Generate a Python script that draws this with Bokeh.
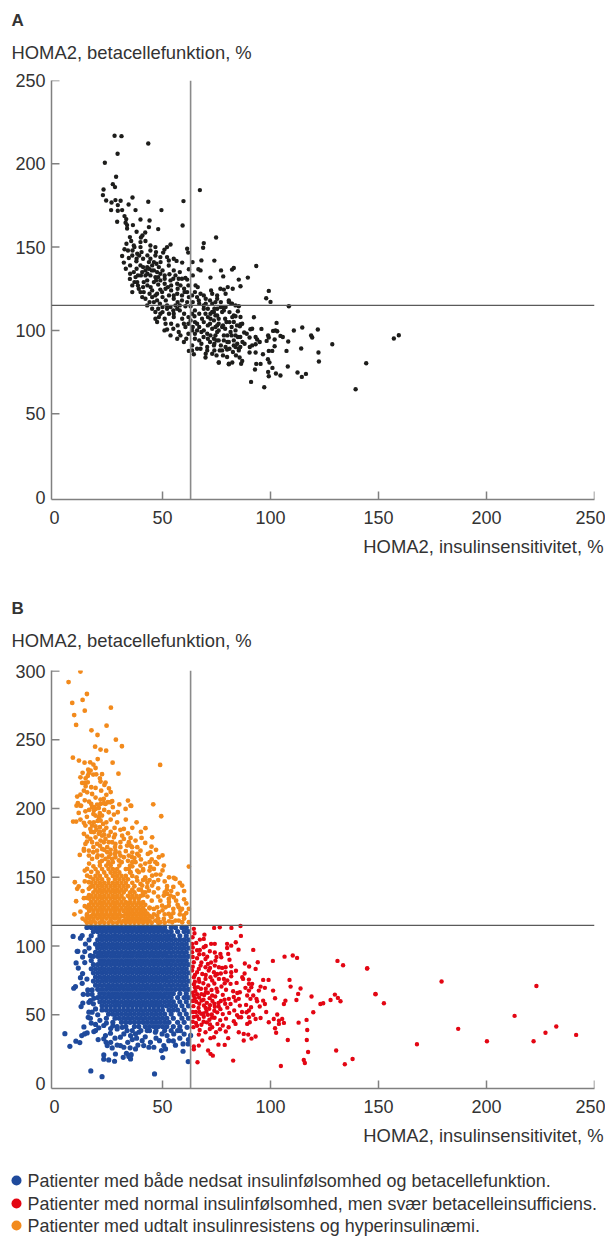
from bokeh.plotting import figure
from bokeh.layouts import column
from bokeh.models import Span, FixedTicker
from bokeh.core.properties import value
from bokeh.embed import file_html
from bokeh.resources import INLINE

FONT = "Liberation Sans"
INK = "#333333"
AXIS = "#808080"
BLUE, RED, ORANGE, BLACK = "#1f4a9c", "#e30613", "#f28a1c", "#1d1d1b"

CUT_X = 63
CUT_Y = 115
X_TICKS = [0, 50, 100, 150, 200, 250]
A_Y_TICKS = [0, 50, 100, 150, 200, 250]
B_Y_TICKS = [0, 50, 100, 150, 200, 250, 300]
PANEL_A = "A"
PANEL_B = "B"
Y_TITLE = "HOMA2, betacellefunktion, %"
X_TITLE = "HOMA2, insulinsensitivitet, %"
LEGEND = ["Patienter med både nedsat insulinfølsomhed og betacellefunktion.",
          "Patienter med normal insulinfølsomhed, men svær betacelleinsufficiens.",
          "Patienter med udtalt insulinresistens og hyperinsulinæmi."]

a_top = [(27.8,216.8),(31,216.6),(43.4,212.2),(29.2,206),(23.3,200.6),(28.5,192.2),(27,187.8),(28,186),(22.7,184.6),(22.4,181.2),(67.3,184.2),(23.9,178),(28.2,178.2),(30.6,177.8),(36.1,179.8),(43.4,177.2),(59.7,177.6),(26.4,176.8),(29.3,175.2),(34.3,175.6),(26.2,172.2),(29.3,171.8),(31.3,172.2),(37.5,172.2),(49.5,172.2),(32.4,168.6),(33.2,166.8),(39.8,166.6),(44,166),(29,165.2),(32.9,164.6),(33.6,163.2),(36.3,163.2),(59.3,163),(43.7,162),(48,160.8),(33.6,161.2),(38,159.2),(42,158.8),(40.7,157),(40,155.8),(34.9,156),(74.8,155.8)]
a_mid = [(35.5,153.7),(39.8,153),(33.3,152),(36.7,151),(42.1,153.7),(44.4,151),(46.7,150),(53.7,151.6),(52.1,150),(69.1,152.4),(68.8,149.6),(32.4,148.7),(36.1,148),(39.8,150),(40.3,147),(44.4,148),(50.9,148.5),(50.3,146.7),(61.4,149),(61.9,146.7),(31.3,144.7),(34.4,143.5),(38.3,146),(39.2,145),(44.4,143),(46.7,145),(52.1,144),(55.2,143),(52.9,142),(56.5,141.7),(68,142),(74,141.9),(63.9,141),(32.1,140.7),(37.9,141.5),(43.7,141),(59.1,140.7),(49.1,141),(42.9,138),(45.2,139),(47.2,140),(48.3,138),(39.8,139),(52.9,139),(55.2,136),(62.2,136.7),(66.6,136.7),(67.6,136),(77.1,136),(82.2,136.5),(83,137.5),(36.7,135),(40.6,135),(42.1,136),(43.7,137),(46,136),(47.5,135),(49,134),(53.2,133.7),(56,133),(60.6,131.5),(72.2,131.7),(78.1,132.4),(85.3,130.5),(34.9,130.9),(37.5,132),(38.6,133),(42.1,133),(44.4,133),(46.7,132),(49,130),(53.7,130),(57.5,131),(61.4,130.5),(38.3,129),(38.6,127),(41.3,129),(42.9,130),(46,129),(56.8,128),(58.3,127),(65.3,127),(66.3,126),(80.2,126),(82.5,125),(76.8,125),(78.4,124.5),(72.5,124),(73,122),(39,125),(39.8,123),(41.3,123),(45.2,124),(49,124.5),(51.4,125),(47.5,122),(49.8,123),(46.7,121),(55.2,121),(56.8,122),(60.2,123),(61.4,123),(63.7,121),(67.6,122),(69.1,121),(75.3,121),(79.2,122)]
a_low = [(40.6,120),(42.1,119),(45.2,120),(55.2,119),(62.2,120),(61.4,117),(66.8,118),(66,120),(75.3,119),(80.7,117),(82.2,116),(85.3,114.5),(42.9,115),(46,117),(47.5,118),(48.8,116),(52.1,115),(53.7,114),(56,115),(60.6,114.5),(63,114.5),(69.1,115),(73,116),(78.4,114),(45.2,113),(46.7,111),(52.1,113),(55.2,110),(56.8,113),(63.7,110),(64.8,108.5),(69.1,113),(69.9,110),(73,111),(75.3,113),(77.6,114),(78.4,112),(83,109),(46.7,107),(48.3,108),(47.5,105),(55.2,108),(59.1,107),(66,104),(68.3,107),(69.1,105),(72.2,107),(74.5,109),(76,104),(77.6,102),(74.5,102),(83,105),(84.5,103),(51.4,104),(52.1,100.5),(59.9,104),(60.6,102),(50.9,100),(53.7,97),(57.5,99),(58.3,97),(56.8,95),(59.9,93),(63.7,100),(66,100),(69.1,100),(70.7,98),(72.2,97),(73.8,95),(75.3,99),(78.4,97),(81.5,99),(83,94),(80,93),(84.9,96),(63.7,91),(62.2,87.7),(63.7,88),(64.5,85.7),(66,89),(67.6,89),(70.7,90),(73.8,91),(69.9,83.7),(76,80.7),(80.7,80),(82.3,80.7),(79.9,84),(77.6,88),(83.8,90),(85.3,89)]
a_right = [(93.4,138.7),(89.5,131.7),(99.2,123.7),(98,119.3),(100,117.1),(108.5,114.5),(86.1,126.5),(80.7,118),(81.8,116),(83.8,115),(74.5,117),(76.9,114),(79.2,114),(77.6,111),(84.9,111.5),(73.8,111),(72.2,110),(92.3,107.9),(86.1,108),(82.3,108),(83.8,108.5),(79.6,105),(75.3,109),(73.8,106),(75.3,103),(86.1,103.7),(86.9,104),(85.8,102.5),(102.8,104.5),(91.5,101),(90.7,100.7),(95.8,100.9),(114.7,101.7),(110.8,99.9),(121.9,100.5),(101.2,99.7),(102.3,100),(103.1,99.5),(87.8,98.7),(83.8,100),(83.8,97),(74.5,97),(157.1,95.1),(159.4,97.1),(90.3,95.7),(93.1,96),(93.8,94.5),(98.9,97),(99.2,95.7),(98.2,93.7),(104.6,96.7),(105.7,96),(101.9,94.5),(118.8,97),(119.3,95.7),(108.2,93.3),(128.6,91.7),(101.9,90.5),(95,93),(93.1,91.7),(91.5,91),(90.4,90),(83,91),(80.7,93),(78.4,94),(84.6,92),(114.2,89.1),(107.4,87.7),(99.2,87.7),(100.8,87.7),(90.3,86.7),(93.1,86.7),(122.2,86.7),(96.5,85.7),(85.3,88),(79.9,88.5),(76.5,88),(79.2,90),(82.6,87),(70.7,88),(85.7,83.7),(98.8,82.7),(99.5,80.7),(122.4,81.3),(144.3,80.3),(86.9,81.7),(86.4,80),(76.1,80.7),(80.7,79.7),(93.4,79.9),(95.4,79.9),(108,78.3),(100.9,77.5),(92.8,76.5),(98.9,75.1),(99.2,72.5),(102.5,74.1),(104.6,72.9),(112.5,74.7),(114.5,72.1),(116.4,73.9),(91,69.1),(97.1,65.9),(139.4,64.7)]
a_dense = [(43,127),(44.5,126),(48,127.5),(51,128),(52.5,126),(54,124),(57,125),(59,121),(50,120),(51.5,118),(53,121),(44,122),(48,113),(50,111),(53,110),(58,112),(60,110),(62,108),(65,112),(67,110),(71,113),(71,108),(67,116),(70,119),(72,118),(64,117),(65,123),(59,118),(57,117),(65,105),(62,104),(64,102),(67,102),(69,96),(67,94),(65,95),(71,103),(73,101),(79,107),(81,105),(81,111),(79,101),(80,97),(76,94),(74,92),(72,93),(77,91),(82,102),(86,96),(88,92),(68,92),(70,86),(73,86),(75,85),(78,85),(84,85),(41,138),(38,137),(35,139),(46,141),(50,136),(51,133),(47,130),(40,133),(37,129),(54,127),(59,131),(62,127),(60,125),(58,115),(49,110),(51,107),(54,104),(57,103),(55,101),(62,98),(61,95),(65,98),(68,99),(71,95),(75,94),(76,100),(72,104),(70,116),(77,117),(74,113),(76,107),(78,103),(82,97),(87,93),(89,98),(86,90),(81,89),(74,88),(36,145),(34,148),(37,150),(41,143),(43,145),(47,147),(49,144),(33,137),(35,134),(38,143),(43,134),(45,136),(48,132),(51,131),(55,131),(58,135),(64,133),(36,127),(36,123),(41,126),(44,117),(50,114),(55,112),(63,106)]

b_orange_top = [(12,299.6),(6.5,292),(15,283.3),(13,279),(8.2,276.8),(26.1,273.4),(14,271.2),(9.1,268),(10,260.8),(24.1,260.3),(17.1,256.9),(19.9,253.5),(28.4,250.1),(31.2,245.3),(18.8,245),(21.3,242.9),(23.9,242.1),(8.5,237),(11.3,234.9),(13.9,233.4),(16.5,233.6),(26.9,233.4),(48.9,231.7),(19,229.5),(15.6,228.3),(16.7,227.6),(15.9,225.7),(29.6,225.4),(17.9,224.7),(19.3,224.9),(12,222.7),(14.4,222),(15.4,223.7),(21.3,219.6),(23.6,218.9),(23.1,217.2),(12.8,218.6),(13.9,218.6),(15.4,219.1),(14.4,216.2),(17,215.5),(25.2,214.7),(21.6,213),(13.6,213),(15.1,211.8),(12,210.1),(10.5,208.7),(17.4,210.6),(21.3,206.5),(22.8,207),(34,205.8),(26.7,205.3),(24.7,204.6),(23.6,203.4),(10.8,204),(12,202.1),(10.2,202.1),(17,203.4),(17.4,200.9),(19,199.7),(20.5,200.4),(21.3,203.4),(35.5,201.9),(45.7,203.1),(32.9,199.7)]
b_orange_mid = [(12.3,202),(18.2,201),(19.7,202.9),(22.8,203.9),(25.9,204.6),(35.2,202.2),(25.1,197.3),(29.3,197.3),(27.5,195.6),(49.4,194.4),(11.2,196.8),(14.3,198),(18.2,198.5),(21,196.6),(22,194.9),(20.5,193.7),(19,194.9),(8.6,190.5),(10,190.5),(13.6,189.6),(14.3,187.6),(16.3,190),(18.2,190),(17.4,187.6),(16.6,185.2),(21.3,191.3),(22.5,188.8),(21,186.4),(22.8,184),(19.4,184.5),(18.2,182.8),(27.8,185.9),(30.5,184.5),(32.1,185.2),(42.1,185.7),(13.6,181.6),(15.1,179.6),(16.6,177.9),(19,179.1),(20.5,181.6),(22,180.3),(23.6,177.9),(25.1,180.3),(27.5,179.1),(31.3,180.3),(32.1,177.9),(30.5,175.5),(40.3,178.6),(45.2,179.1),(35.2,178.6),(37.5,176.7),(35.2,173.1),(34.4,175.5),(14.3,174.3),(13.6,170.6),(15.9,169.4),(11.7,166.3),(13.6,169.4),(15.9,165.8),(17.4,175.5),(19.7,174.3),(21.3,176.7),(22.8,175.5),(24.4,171.9),(26.7,175.5),(28.2,174.3),(25.1,175.5),(30.5,171.9),(33.6,173.1),(35.9,171.9),(38.3,171.9),(44.9,172.3),(43.2,167),(44.4,168.2),(39.8,169.4),(38.3,167),(39,165.8),(35.9,164.6),(34.4,165.8),(17.9,168.2),(19.7,169.4),(22,170.6),(24.4,168.2),(25.9,167),(28.2,169.4),(30.5,165.8),(32.1,164.6),(17.4,163.4),(19.7,164.6),(22,165.8),(23.6,163.4),(25.1,164.6),(26.7,163.4),(28.2,164.6),(29.8,162.2)]
b_orange_low = [(44,161),(48.3,164.6),(46.7,161),(47.5,159.7),(37.5,161),(39.8,158.5),(38.3,154.9),(39,153.7),(50.6,158.5),(44.4,157.3),(44,154.9),(46,156.1),(45.2,151.2),(62.2,157.8),(14,154.9),(15.1,156.1),(15.1,151.2),(16.6,150.1),(9.4,146.4),(11.2,143.3),(10.5,141.6),(15.9,146.4),(16.6,142.8),(15.9,141.6),(55.2,149.6),(56,148.8),(59.1,144),(52.1,143.5),(46,146.4),(45.2,144),(34.4,156.1),(35.2,153.7),(38.3,147.6),(39.8,145.2),(40.6,144),(42.9,142.8),(43.7,140.3),(10,132.6),(13.6,134.8),(9.2,123.1),(50.6,136.7),(52.1,137.9),(53.7,136.7),(52.9,134.3),(56.3,133),(55.2,135.5),(49.8,129.4),(51.4,128.2),(52.9,129.4),(57.5,128.2),(58.3,125.8),(62.2,127),(47.5,128.2),(46,127),(48.3,124.6),(53.7,122.2),(52.9,123.4),(56,118.5),(57.5,118.5),(54.5,117.3),(62.2,117.3),(47.5,122.2),(46.7,118.5),(49,117.3),(45.2,120.9),(50.6,119.7),(14.3,118.5),(16.6,117.3),(15.1,120.9),(59.9,122.2),(59.1,117.3),(16,205),(14,206),(19,208),(24,210),(26,212),(19,215),(21,222),(13,226),(18,232),(20,236),(22,225),(24,190),(26,192),(29,190),(33,192),(12,192),(15,194),(23,199),(27,201),(30,203),(38,190),(36,186),(34,182),(40,183),(42,175),(47,170),(50,166),(53,150),(49,152),(51,147),(48,142),(54,140),(57,138),(60,134),(61,131),(55,127),(60,120),(53,118),(51,123),(49,133),(46,139),(48,148),(42,150),(41,155),(43,146),(58,123)]
b_orange_extra = [(16,199),(18,196),(20,191),(24,186),(26,183),(28,181),(19,187),(21,183),(23,181),(17,183),(15,176),(18,172),(21,173),(23,170),(26,170),(28,172),(30,168),(33,169),(36,168),(20,166),(22,162),(25,160),(28,167),(31,161),(34,162),(37,164),(40,163),(42,160),(45,163),(36,158),(38,150),(41,148),(44,148),(47,152),(50,155),(52,141),(55,143),(58,146),(60,140),(51,139),(48,136),(45,133),(44,128),(46,123),(50,126),(53,132),(55,124),(57,130),(59,127),(61,124),(54,121),(48,120),(43,136),(42,139),(40,141),(41,137),(16,160),(14,147),(13,140),(14,129),(12,125),(13,120),(15,135),(15,128),(15,123),(17,154),(18,158),(17,146),(16,137)]
b_orange_core = {
 117: [15,17,19,21,23,25,27,29,31,33,35,37,39,41,43,45,48,51],
 118.5: [18,22,26,30,32,34,36,38,40,42,44],
 120: [16,18,20,22,24,26,28,30,33,35,37,39,41,43],
 122: [15,17,19,21,23,25,27,29,31,32,34,36,38,40,42,44],
 123.5: [18,20,22,24,26,28,30,33,35,37,39,41,43],
 125.5: [16,18,20,22,24,26,28,30,32,34,36,38,40,42],
 127.5: [17,19,21,23,25,27,29,31,33,35,37,39,41,44],
 130: [16,18,20,22,24,26,28,30,32,34,36,38,40,42],
 132: [17,19,21,23,25,27,29,31,33,35,37,39,41],
 134.5: [16,18,20,22,24,26,28,30,32,35,37,39],
 136.5: [17,19,21,23,25,27,29,31,34,36,38,40],
 139: [18,20,22,24,26,28,30,32,35,37,41],
 141: [19,21,23,25,27,29,31,33,36,39],
 143.5: [18,20,22,24,26,28,30,32,34,37],
 146: [19,21,23,25,27,29,31,33,36],
 148.5: [18,20,22,25,28,30,32,34,42],
 151: [19,21,24,27,29,31,33,36],
 153.5: [20,23,26,28,30,35],
 156: [19,22,25,27,29,33,41],
 158.5: [21,24,26,30,35],
 161: [21,25,27,31,36],
}

b_blue_edge = [(10,87.7),(10.8,96.2),(9.7,70.5),(8.9,69.3),(12.8,72.9),(13.3,64.9),(15.4,68.1),(17.4,68.1),(15.4,64.9),(17.4,64.9),(16.6,60.3),(18.2,62),(15.9,59.1),(13.1,58.6),(12.3,56),(19,54.3),(17.4,51.9),(15.9,51.9),(15.6,48.2),(16.6,47.5),(13.6,41.2),(15.1,36.8),(13.9,36.1),(4.8,36.3),(12.6,34.9),(9.9,30.8),(11.7,29.8),(7.1,27.1),(19,38.5),(20.5,40.5),(22.8,42.2),(18.2,37.8),(20.2,32),(22.8,32.5),(23.6,34.9),(25.9,36.6),(23.9,30),(24.4,27.6),(26.7,25.9),(22.8,20.8),(22.8,17.7),(25.1,17.2),(27.8,16.2),(28.2,21.5),(31.8,19.1),(30.5,27.6),(32.1,26.4),(33.9,30),(35.2,17.9),(35.5,21),(33.3,22),(34.4,19.6),(37.5,25.2),(38.6,28),(40.6,31.2),(41.3,27.6),(43.7,26.4),(46,26.4),(44.4,30),(48.6,31.2),(49.5,24),(51.4,25.2),(50.6,27.6),(50.1,18.9),(56,27.9),(59.5,28.8),(61.9,28.8),(59.5,23.5),(61.9,16),(16.8,9.2),(22,5),(46.3,7),(37.5,36.1),(39,37.3),(35.2,34.9),(32.1,36.1),(30.5,33.7),(29,39.7),(31.3,40.9),(33.6,38.5),(42.9,38.5),(46.7,37.3),(49.8,36.1),(52.1,34.9),(55.2,36.1),(58.3,38.5),(61.4,40.9),(52.9,31.2),(8.6,107),(12,105.7),(10.5,96.2),(12.8,107.6),(14.3,101.5),(16.6,93),(11,84),(13,80),(14,88),(13,92),(15,76),(12,77),(18,58),(21,46),(20,50),(24,44),(27,42),(26,40),(14,96),(60,36),(63,35),(62,32),(28,33),(26,30),(36,32),(42,34),(47,33),(55,31),(58,33),(29,28),(35,26),(38,33),(17,44),(19,43)]
b_blue_core = {
 113.5: [15,17,19,21,23,25,27,29,31,33,35,37,39,41,43,45,47,49,51,54,56,59,61],
 110.5: [18,20,22,24,26,28,30,32,34,36,38,40,42,44,46,48,50,52,54,57,60,62],
 107.5: [17,21,23,25,27,29,31,33,35,37,39,41,43,45,47,49,51,53,55,58,61],
 104.5: [16,20,22,24,26,28,30,32,34,36,38,40,42,44,46,48,50,52,54,56,58,60,62],
 101.5: [19,21,23,25,27,29,31,33,35,37,39,41,43,45,47,49,51,53,55,57,59,61],
 98.5: [16,20,22,24,26,28,30,32,34,36,38,40,42,44,46,48,50,52,54,56,58,60,62],
 95.5: [19,21,23,25,27,29,31,33,35,37,39,41,43,45,47,49,51,53,55,57,59,61],
 92.5: [18,20,22,24,26,28,30,32,34,36,38,40,42,44,46,48,50,52,54,56,58,60,62],
 89.5: [17,21,23,25,27,29,31,33,35,37,39,41,43,45,47,49,51,53,55,57,59,61],
 86.5: [18,20,22,24,26,28,30,32,34,36,38,40,42,44,46,48,50,52,54,56,58,60,62],
 83.5: [17,19,21,23,25,27,29,31,33,35,37,39,41,43,45,47,49,51,53,55,57,59,61],
 80.5: [18,20,22,24,26,28,30,32,34,36,38,40,42,44,46,48,50,52,54,56,58,60,62],
 77.5: [19,21,23,25,27,29,31,33,35,37,39,41,43,45,47,49,51,53,55,57,59,61],
 74.5: [18,20,22,24,26,28,30,32,34,36,38,40,42,44,46,48,50,52,54,56,58,60,62],
 71.5: [19,21,23,25,27,29,31,33,35,37,39,41,43,45,47,49,51,53,55,57,59,61],
 68.5: [20,22,24,26,28,30,32,34,36,38,40,42,44,46,48,50,52,54,56,58,60,62],
 65.5: [21,23,25,27,29,31,33,35,37,39,41,43,45,47,49,51,53,55,58,61],
 62.5: [20,22,24,26,28,30,32,34,36,38,40,42,44,46,48,50,52,54,57,60,62],
 59.5: [21,23,25,27,29,31,33,35,37,39,41,43,45,47,49,51,53,55,58,61],
 56.5: [22,24,26,28,30,32,34,36,38,40,42,44,46,48,50,52,54,56,59,62],
 53.5: [22,24,26,28,30,32,34,36,38,40,42,44,46,48,50,53,55,57,60],
 50.5: [25,27,29,31,33,35,37,39,41,43,45,47,49,51,54,58,61],
 47.5: [24,28,30,32,34,36,38,40,42,44,46,48,50,52,55,59,62],
 44.5: [27,31,33,35,37,39,41,43,45,47,49,51,53,57,60],
 41.5: [29,33,37,39,42,44,46,48,50,52,55,58],
 38.5: [36,40,44,47,51,54,57],
}
b_blue_fill = {
 112: [20,23,26,29,32,35,38,41,44,47,50],
 106: [22,25,28,31,34,37,40,43,46,49,52],
 100: [20,23,26,29,32,35,38,41,44,47,50,53],
 94: [21,24,27,30,33,36,39,42,45,48,51],
 88: [22,25,28,31,34,37,40,43,46,49,52],
 82: [23,26,29,32,35,38,41,44,47,50,53],
 76: [24,27,30,33,36,39,42,45,48,51],
 70: [25,28,31,34,37,40,43,46,49],
 64: [26,29,32,35,38,41,44,47,50],
 58: [29,33,36,39,42,45,48],
}

b_red_edge = [(73.9,113.2),(76.5,113.7),(81.9,113.2),(86.1,114.6),(64.5,112.5),(64.8,109.3),(69.4,108.3),(86.3,107.4),(63.9,106.4),(67.3,104.7),(69.1,105.2),(83.9,102.8),(63.7,101.6),(65.6,102.3),(72.5,101.6),(74.2,101.6),(79.9,101.6),(81.8,100.3),(69.1,99.1),(67.3,97.2),(79.9,98.6),(85.2,97.4),(92,97.2),(71.9,96.2),(74.2,95.3),(63.7,95.5),(76.8,94.3),(80.4,94.3),(70.7,92.3),(77.2,91.9),(106.5,92.3),(110.3,93.1),(112.3,91.4),(74.5,89.4),(66,91.1),(69.9,90.6),(101.1,89.2),(94.1,88.2),(88.1,87.3),(131,89.2),(133.6,86),(144.8,83.9),(90.1,85.1),(93.1,83.4),(64.5,88.2),(67.6,85.8),(66.8,83.4),(69.9,84.6),(74.2,85.8),(76.1,84.6),(77.6,84.1),(79.2,84.6),(81.8,85.3),(79.2,81),(81.8,81),(81.8,78),(63.7,82.2),(66,81),(68.4,79.7),(71.4,82.2),(73.8,81),(75.3,79.7),(64.5,77.3),(66.8,76.1),(69.9,76.1),(72.2,77.3),(74.5,78.5),(76.1,76.1),(78.4,76.1),(86.9,77.3),(87.3,76.1),(90,75.6),(96.6,75.4),(99.1,75.4),(108.8,75.4),(81.5,72.5),(84.3,73.2),(90,72.5),(91.5,72.5),(109.3,70.5),(113.9,69.1),(88.4,69.6),(91.1,70),(95.4,70.5),(97.4,69.6),(101.2,67.6),(90,67.6),(94.6,67.6),(82.7,67.1),(84.6,65.9),(85.8,66.4),(112.8,65.2),(89.2,64),(129.8,64.7),(148.6,65.2),(131.2,62.3),(119,63.3),(112,60.8),(102.1,62),(127.8,60.8),(132.4,59.9),(90.7,61.6),(93.5,61.6),(96.6,60.3),(97.4,57.9),(93.8,59.9),(106.9,60.3),(106.2,57.9),(123.1,57.9),(124.4,58.4),(80.7,61.6),(81.5,57.9),(83.8,60.3),(85.3,61.6),(85.8,56.7),(88.7,57.2),(91,55.5),(90,53.1),(88.9,51.9),(119.8,51.9),(103.1,50.2),(93.1,47),(95.4,47.7),(99.2,44.6),(101.5,47),(103.9,45.8),(105.4,47),(106.2,44.1),(103.9,43.4),(116.7,46.3),(113,44.3),(117,39),(102.6,37),(102.1,40.2),(116.8,31.7),(108,31.7),(117.4,23),(130.4,24),(138,17.9),(134.4,14),(115.4,17.2),(115.9,15),(104.8,12.8),(82.7,16.7),(66.2,15.5),(85.3,48.2),(86.4,48.2),(83,45.3),(83.8,43.4),(90,48.2),(89.2,43.4),(90.4,44.6),(85.3,37.3),(87.6,36.1),(89.7,35.6),(93.1,34.2),(91.2,32.7),(87.6,31.3),(80.4,33),(78.8,28.1),(75.9,28.3),(74.8,37.3),(73,41),(71.9,39.7),(73.8,33.7),(72.2,33),(69.9,37.3),(66.8,35.6),(68.4,31.3),(66.8,27.6),(64.5,26.9),(64.5,25),(71.1,24),(72.2,21.6),(73.3,20.3),(144.7,83.6),(148.6,65),(152.5,58.4),(179.2,74.2),(167.8,28.6),(186.9,39.8),(200.2,30.8),(213,49.2),(223.1,71),(221.8,30.8),(227.3,37),(232.3,41.5),(241.5,35.4)]
b_red_core = [(64.5,72.3),(66.4,70.1),(68.9,73),(71.2,71.4),(74,72.8),(77.3,70.6),(65.2,67.4),(67.8,68.9),(70,66.2),(72.7,68),(75.4,66.8),(79.4,68.2),(64.4,63.9),(66.9,62.6),(69.3,64.4),(71.8,62.1),(74.4,63.3),(77.9,64.5),(65.6,59.5),(68.1,60.4),(70.5,58.7),(73.1,60.1),(75.9,58.6),(78.7,60.9),(64.3,56.3),(66.7,55),(69.2,56.8),(71.6,54.4),(74.2,55.9),(76.8,54.1),(80,55.2),(83.2,53.2),(65.4,52),(67.9,50.7),(70.3,52.4),(72.8,50.2),(75.3,51.8),(77.9,50.5),(80.9,51.4),(64.5,48.4),(66.9,46.9),(69.1,48.6),(71.7,46.4),(74.1,47.9),(76.7,46.1),(79.4,47.2),(65.5,44),(68,42.8),(70.5,44.5),(75.4,43.4),(77.9,42.2),(80.6,40.9),(64.3,41),(67.2,38.9),(76.6,39.5),(79.3,37.9),(86.8,52),(84.5,49.8),(78.8,72.9),(83,63),(72.5,88),(75,92),(67,94),(81,90),(84,82),(88,80),(92,64),(95,56),(98,52),(92,50),(64,92),(64,85),(65,79),(67,74),(70,79),(73,75),(65,70),(64,66),(64,60),(67,58),(69,61),(72,57),(74,53),(70,55),(67,52),(69,45),(72,43),(66,49),(64,52),(73,64),(71,66),(77,60),(75,69),(70,69),(68,65),(66,65),(65,62),(73,48),(71,50),(69,51),(64,45),(66,42),(72,84),(68,88),(71,87),(77,80),(80,75),(66,97),(70,100),(64,99),(69,94),(65,74),(79,58),(76,56),(74,58)]


def flatten(*groups):
    xs, ys = [], []
    for g in groups:
        if isinstance(g, dict):
            for yv, row in g.items():
                xs += row
                ys += [yv] * len(row)
        else:
            xs += [q[0] for q in g]
            ys += [q[1] for q in g]
    return xs, ys


W = 605


def text_strip(h, items, dots=None):
    """A plain strip for the texts outside the plot frames; x and y are pixels in the strip."""
    p = figure(width=W, height=h, x_range=(0, W), y_range=(h, 0), output_backend="svg",
               toolbar_location=None, min_border=0, x_axis_type=None, y_axis_type=None)
    p.frame_align = False
    p.outline_line_color = None
    p.grid.visible = False
    if dots:
        p.scatter(dots[0], dots[1], size=10, marker="circle", color=dots[2], line_color=None)
    for x, y, txt, align, style, size in items:
        p.text([x], [y], text=[txt], text_font=value(FONT), text_font_size=size, text_font_style=style,
               text_color=INK, text_align=align, text_baseline="middle")
    return p


def panel(h, top, frame_h, y0, y1, yticks):
    p = figure(width=W, height=h, frame_width=543, frame_height=frame_h,
               x_range=(-1.4, 250), y_range=(y0, y1), output_backend="svg", toolbar_location=None,
               min_border_left=51, min_border_right=11, min_border_top=top,
               min_border_bottom=h - top - frame_h, background_fill_color="white")
    p.frame_align = False
    p.outline_line_color = None
    p.grid.visible = False
    for ax, ticks in ((p.xaxis[0], X_TICKS), (p.yaxis[0], yticks)):
        ax.ticker = FixedTicker(ticks=ticks)
        ax.axis_line_color = AXIS
        ax.axis_line_width = 1.5
        ax.major_tick_line_color = None
        ax.minor_tick_line_color = None
        ax.major_label_text_font = FONT
        ax.major_label_text_font_size = "18px"
        ax.major_label_text_color = INK
    p.xaxis[0].major_label_standoff = 5
    p.yaxis[0].major_label_standoff = 0
    # inward ticks: the reference shows none at zero, which an axis cannot omit on its own
    dx = 8 / 2.16
    dy = 8 * (y1 - y0) / frame_h
    xt = [t for t in X_TICKS if t]
    yt = [t for t in yticks if t]
    p.segment(xt, [y0] * len(xt), xt, [y0 + dy] * len(xt), line_color=AXIS, line_width=1.5)
    p.segment([-1.4] * len(yt), yt, [-1.4 + dx] * len(yt), yt, line_color=AXIS, line_width=1.5)
    return p


def cuts(p):
    p.add_layout(Span(location=CUT_X, dimension="height", line_color="#8a8a8a", line_width=1.6))
    p.add_layout(Span(location=CUT_Y, dimension="width", line_color="#5a5a5a", line_width=1.2))


T = "18.4px"
L = "17.9px"
head_a = text_strip(70, [(11, 20, PANEL_A, "left", "bold", "17px"), (11, 52, Y_TITLE, "left", "normal", T)])

pa = panel(465, 10, 419, -1.5, 250, A_Y_TICKS)
ax_, ay_ = flatten(a_top, a_mid, a_low, a_right, a_dense)
pa.scatter(ax_, ay_, size=4.4, marker="circle", color=BLACK, line_color=None)
cuts(pa)

foot_a = text_strip(55, [(603, 11, X_TITLE, "right", "normal", T)])
head_b = text_strip(70, [(11, 18, PANEL_B, "left", "bold", "17px"), (11, 50, Y_TITLE, "left", "normal", T)])

pb = panel(464, 10, 418, -3.6, 300.4, B_Y_TICKS)
ox, oy = flatten(b_orange_top, b_orange_mid, b_orange_low, b_orange_extra, b_orange_core)
bx, by = flatten(b_blue_edge, b_blue_core, b_blue_fill)
rx, ry = flatten(b_red_edge, b_red_core)
pb.scatter(ox, oy, size=4.8, marker="circle", color=ORANGE, line_color=None)
pb.scatter(bx, by, size=5.2, marker="circle", color=BLUE, line_color=None)
pb.scatter(rx, ry, size=4.4, marker="circle", color=RED, line_color=None)
cuts(pb)

LEG_Y = [56, 79, 101]
foot_b = text_strip(112, [(603, 11, X_TITLE, "right", "normal", T)]
                    + [(27, y, t, "left", "normal", L) for y, t in zip(LEG_Y, LEGEND)],
                    dots=([16, 16, 16], LEG_Y, [BLUE, RED, ORANGE]))

root = column(head_a, pa, foot_a, head_b, pb, foot_b, spacing=0)
open("out.html", "w").write(file_html(root, INLINE))
